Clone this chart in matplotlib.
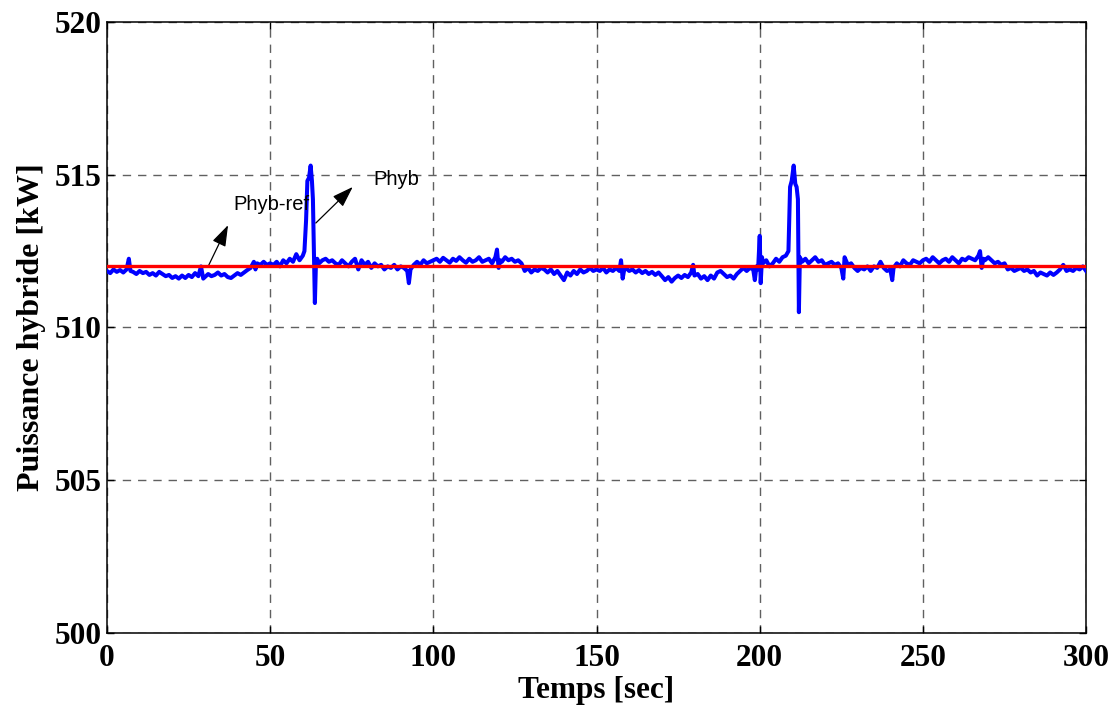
import numpy as np
import matplotlib
matplotlib.use("Agg")
import matplotlib.pyplot as plt

t_phyb = [0, 1, 2, 3, 4, 5, 6, 6.7, 7.2, 8, 9, 10, 11, 12, 13, 14, 15, 16, 17, 18, 19, 20,
          21, 22, 23, 24, 25, 26, 27, 28, 28.8, 29.5, 30, 31, 32, 33, 34, 35, 36, 37, 38, 39,
          40, 41, 42, 43, 44, 45, 45.5, 46, 47, 48, 49, 50,
          51, 52, 53, 54, 55, 56, 57, 58, 59, 60, 60.5, 61.0, 61.4, 61.9, 62.4, 62.8, 63.1,
          63.4, 63.7, 64.0, 64.4, 65, 66, 67, 68, 69, 70, 71, 72, 73, 74, 75, 76, 77, 78, 79,
          80, 81, 82, 83, 84, 85, 86, 87, 88, 89, 90, 91, 92, 92.5, 93, 94, 95, 96, 97, 98,
          99, 100,
          101, 102, 103, 104, 105, 106, 107, 108, 109, 110, 111, 112, 113, 114, 115, 116,
          117, 118, 119, 119.5, 120, 120.5, 121, 122, 123, 124, 125, 126, 127, 128, 129, 130,
          131, 132, 133, 134, 135, 136, 137, 138, 139, 140, 141, 142, 143, 144, 145, 146,
          147, 148, 149, 150,
          151, 152, 153, 154, 155, 156, 157, 157.5, 158, 158.5, 159, 160, 161, 162, 163, 164,
          165, 166, 167, 168, 169, 170, 171, 172, 173, 174, 175, 176, 177, 178, 179, 179.6,
          180, 181, 182, 183, 184, 185, 186, 187, 188, 189, 190, 191, 192, 193, 194, 195,
          196, 197, 198, 198.5, 199, 199.5, 200, 200.3, 200.7,
          201, 202, 203, 204, 205, 206, 207, 208, 208.8, 209.3, 209.8, 210.4, 210.9, 211.3,
          211.7, 212.0, 212.3, 213, 214, 215, 216, 217, 218, 219, 220, 221, 222, 223, 224,
          225, 225.6, 226, 227, 228, 229, 230, 231, 232, 233, 234, 235, 236, 237, 238, 239,
          240, 240.6, 241, 242, 243, 244, 245, 246, 247, 248, 249, 250,
          251, 252, 253, 254, 255, 256, 257, 258, 259, 260, 261, 262, 263, 264, 265, 266,
          267, 267.5, 268, 268.5, 269, 270, 271, 272, 273, 274, 275, 276, 277, 278, 279, 280,
          281, 282, 283, 284, 285, 286, 287, 288, 289, 290, 291, 292, 293, 294, 295, 296,
          297, 298, 299, 300]
phyb = [511.85, 511.78, 511.9, 511.82, 511.88, 511.8, 511.9, 512.25, 511.85, 511.82, 511.75,
        511.85, 511.78, 511.82, 511.72, 511.78, 511.7, 511.82, 511.75, 511.68, 511.72, 511.62,
        511.68, 511.6, 511.7, 511.62, 511.72, 511.65, 511.78, 511.68, 512.0, 511.6, 511.65,
        511.75, 511.68, 511.72, 511.8, 511.7, 511.75, 511.65, 511.62, 511.7,
        511.78, 511.72, 511.8, 511.88, 511.95, 512.15, 511.9, 512.1, 512.05, 512.15, 512.05, 512.1,
        512.05, 512.15, 512.0, 512.2, 512.1, 512.25, 512.15, 512.4, 512.2, 512.35, 512.5, 513.5,
        514.8, 514.9, 515.3, 514.8, 514.2, 512.4, 510.8, 512.0, 512.25, 512.1, 512.2, 512.25,
        512.15, 512.2, 512.1, 512.05, 512.2, 512.1, 512.0, 512.15, 512.25, 511.9, 512.2, 512.05,
        512.15, 511.95, 512.1, 512.0, 512.05, 511.9, 512.0, 511.95, 512.05, 511.9, 512.0, 511.95,
        511.85, 511.45, 511.9, 512.05, 512.15, 512.05, 512.2, 512.1, 512.15, 512.2,
        512.25, 512.15, 512.28, 512.2, 512.12, 512.25, 512.18, 512.3, 512.2, 512.12, 512.25,
        512.15, 512.2, 512.3, 512.15, 512.2, 512.25, 512.1, 512.3, 512.55, 511.95, 512.2, 512.15,
        512.3, 512.2, 512.25, 512.15, 512.2, 512.1, 511.85, 511.95, 511.8, 511.9, 511.85, 511.95,
        511.9, 511.8, 511.9, 511.75, 511.85, 511.7, 511.55, 511.8, 511.7, 511.85, 511.75, 511.9,
        511.8, 511.85, 511.95, 511.85, 511.9,
        511.85, 511.95, 511.8, 511.9, 511.85, 511.95, 511.85, 512.2, 511.6, 511.9, 511.95, 511.85,
        511.9, 511.8, 511.88, 511.78, 511.85, 511.75, 511.82, 511.72, 511.8, 511.68, 511.55,
        511.65, 511.5, 511.62, 511.7, 511.62, 511.72, 511.65, 511.8, 512.05, 511.7, 511.75, 511.6,
        511.68, 511.55, 511.7, 511.6, 511.8, 511.85, 511.75, 511.65, 511.7, 511.6, 511.75, 511.85,
        511.95, 511.85, 511.95, 511.9, 511.55, 512.0, 511.9, 513.0, 511.45, 512.3,
        512.1, 512.2, 512.0, 512.1, 512.25, 512.15, 512.3, 512.35, 512.5, 514.6, 514.8, 515.3,
        514.7, 514.6, 514.2, 510.5, 512.3, 512.15, 512.25, 512.1, 512.2, 512.3, 512.15, 512.2,
        512.05, 512.1, 512.15, 512.05, 512.1, 511.95, 511.6, 512.3, 512.05, 512.1, 511.95, 511.85,
        511.95, 511.9, 512.0, 511.85, 512.0, 511.95, 512.15, 511.95, 511.85, 511.9, 511.55, 511.95,
        512.1, 512.0, 512.2, 512.1, 512.05, 512.2, 512.15, 512.1, 512.2,
        512.25, 512.15, 512.3, 512.2, 512.1, 512.2, 512.25, 512.15, 512.3, 512.2, 512.1, 512.25,
        512.2, 512.3, 512.25, 512.2, 512.35, 512.5, 511.95, 512.25, 512.2, 512.3, 512.2, 512.1,
        512.15, 512.05, 512.1, 511.9, 511.95, 511.85, 511.9, 511.95, 511.85, 511.9, 511.8, 511.85,
        511.7, 511.8, 511.75, 511.7, 511.8, 511.72, 511.8, 511.9, 512.05, 511.85, 511.9, 511.85,
        511.95, 511.9, 512.0, 511.85]

# reference
t_ref = [0, 300]
phyb_ref = [512.0, 512.0]

xticks = [0, 50, 100, 150, 200, 250, 300]
yticks = [500, 505, 510, 515, 520]

serif = ['Liberation Serif', 'DejaVu Serif']
sans = ['Liberation Sans', 'DejaVu Sans']

fig = plt.figure(figsize=(11.19, 7.11), dpi=100)
ax = fig.add_axes([0.0956, 0.1097, 0.875, 0.8594])

ax.plot(t_phyb, phyb, color='#0000ff', linewidth=2.9, solid_joinstyle='round', zorder=3)
ax.plot(t_ref, phyb_ref, color='#ff0000', linewidth=2.4, zorder=4)

ax.set_xlim(0, 300)
ax.set_ylim(500, 520)
ax.set_xticks(xticks)
ax.set_yticks(yticks)
ax.grid(True, color='#606060', linestyle=(0, (6, 5)), linewidth=1.0)
ax.tick_params(direction='in', length=5, width=1, top=True, right=True)
ax.tick_params(axis='x', pad=8)
ax.tick_params(axis='y', pad=4)
for s in ax.spines.values():
    s.set_linewidth(1.1)

for lab in ax.get_xticklabels() + ax.get_yticklabels():
    lab.set_family(serif)
    lab.set_fontweight('bold')
    lab.set_fontsize(22.5)

ax.set_xlabel('Temps [sec]', family=serif, fontweight='bold', fontsize=22.5, labelpad=2)
ax.set_ylabel('Puissance hybride [kW]', family=serif, fontweight='bold', fontsize=23, labelpad=6)

# annotations
arr = dict(arrowstyle='-|>,head_length=0.65,head_width=0.22', color='black', lw=0.9,
           mutation_scale=20, shrinkA=0, shrinkB=0)
ax.annotate('', xy=(37.1, 513.35), xytext=(31, 512.0), arrowprops=arr)
ax.text(38.6, 513.85, 'Phyb-ref', family=sans, fontsize=14.5, zorder=5)
ax.annotate('', xy=(75.3, 514.6), xytext=(64.0, 513.42), arrowprops=arr)
ax.text(81.5, 514.66, 'Phyb', family=sans, fontsize=14.5, zorder=5)

fig.savefig('out.png', dpi=100)
